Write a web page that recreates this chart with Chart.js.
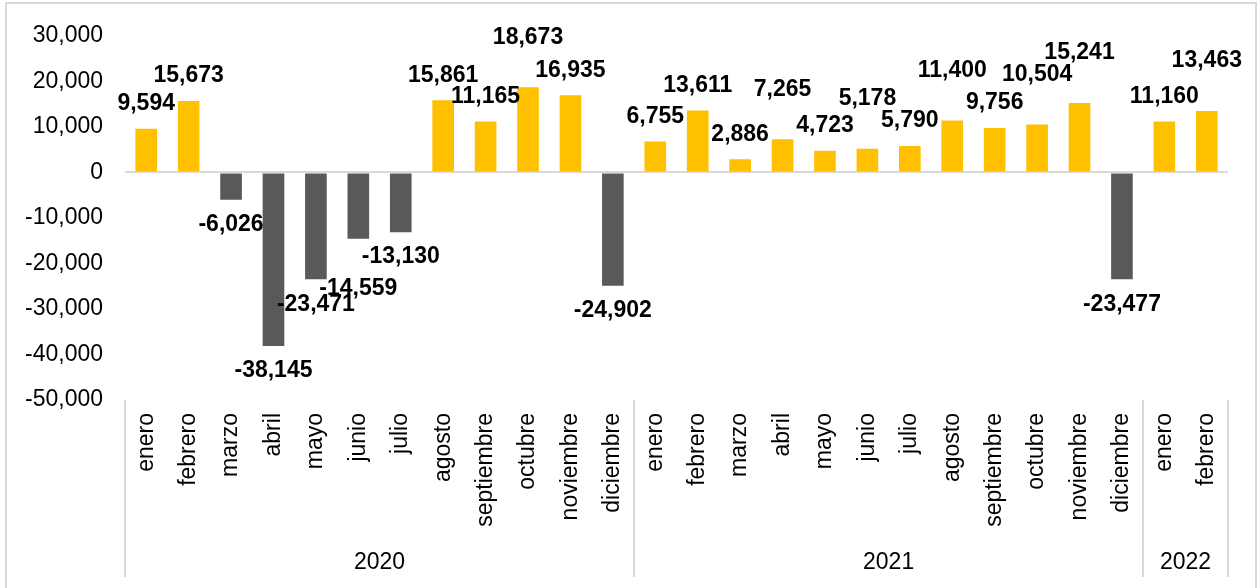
<!DOCTYPE html>
<html>
<head>
<meta charset="utf-8">
<script src="https://cdn.jsdelivr.net/npm/chart.js@4/dist/chart.umd.min.js"></script>
<style>
  html, body { margin: 0; padding: 0; background: #fff; }
  #wrap { position: relative; width: 1259px; height: 588px; }
</style>
</head>
<body>
<div id="wrap"><canvas id="saldoChart"></canvas></div>
<script>
// meses por año
const months2020 = ["enero", "febrero", "marzo", "abril", "mayo", "junio", "julio", "agosto", "septiembre", "octubre", "noviembre", "diciembre"];
const months2021 = ["enero", "febrero", "marzo", "abril", "mayo", "junio", "julio", "agosto", "septiembre", "octubre", "noviembre", "diciembre"];
const months2022 = ["enero", "febrero"];
const years = ["2020", "2021", "2022"];

const values2020 = [9594, 15673, -6026, -38145, -23471, -14559, -13130, 15861, 11165, 18673, 16935, -24902];
const values2021 = [6755, 13611, 2886, 7265, 4723, 5178, 5790, 11400, 9756, 10504, 15241, -23477];
const values2022 = [11160, 13463];

const yMin = -50000;
const yMax = 30000;
const yStep = 10000;

const labels = months2020.concat(months2021, months2022);
const values = values2020.concat(values2021, values2022);
const groupSizes = [months2020.length, months2021.length, months2022.length];

const fontFamily = "'Liberation Sans', Arial, sans-serif";
const lineGray = "#d9d9d9";

function fmt(v) {
  return v.toLocaleString("en-US");
}

// años debajo de los meses, con separadores
const yearGroups = {
  id: "yearGroups",
  afterDraw(chart) {
    const ctx = chart.ctx;
    const x = chart.scales.x;
    const area = chart.chartArea;
    const half = (x.getPixelForValue(1) - x.getPixelForValue(0)) / 2;
    ctx.save();
    ctx.strokeStyle = lineGray;
    ctx.lineWidth = 2;
    ctx.fillStyle = "#000";
    ctx.font = "23px " + fontFamily;
    ctx.textAlign = "center";
    ctx.textBaseline = "middle";

    let idx = 0;
    const edges = [x.getPixelForValue(0) - half];
    groupSizes.forEach(function (n, g) {
      const left = x.getPixelForValue(idx) - half;
      const right = x.getPixelForValue(idx + n - 1) + half;
      edges.push(right);
      ctx.fillText(years[g], (left + right) / 2, area.bottom + 163);
      idx += n;
    });
    edges.forEach(function (ex) {
      ctx.beginPath();
      ctx.moveTo(Math.round(ex), area.bottom);
      ctx.lineTo(Math.round(ex), area.bottom + 177);
      ctx.stroke();
    });

    // marco exterior
    ctx.strokeRect(6, 3, chart.width - 9, chart.height + 10);
    ctx.restore();
  },
};

// etiquetas de valor fuera del extremo de cada barra
// si choca con la anterior, la de mayor valor absoluto se aleja un poco más
const valueLabels = {
  id: "valueLabels",
  afterDatasetsDraw(chart) {
    const ctx = chart.ctx;
    const meta = chart.getDatasetMeta(0);
    const items = [];
    ctx.save();
    ctx.font = "bold 23px " + fontFamily;
    ctx.fillStyle = "#000";
    ctx.textAlign = "center";
    ctx.textBaseline = "middle";
    meta.data.forEach(function (bar, i) {
      const v = values[i];
      const text = fmt(v);
      const item = {
        text: text,
        x: bar.x,
        w: ctx.measureText(text).width,
        dir: v >= 0 ? -1 : 1,
        v: v,
      };
      item.y = bar.y + item.dir * 25;
      const prev = items[items.length - 1];
      if (prev && prev.dir === item.dir &&
          Math.abs(prev.x - item.x) < (prev.w + item.w) / 2 &&
          Math.abs(prev.y - item.y) < 21) {
        const mover = Math.abs(prev.v) > Math.abs(v) ? prev : item;
        mover.y += mover.dir * 25;
      }
      items.push(item);
    });
    items.forEach(function (it) {
      ctx.fillText(it.text, it.x, it.y);
    });
    ctx.restore();
  },
};

const ctx = document.getElementById("saldoChart").getContext("2d");
const saldoChart = new Chart(ctx, {
  type: "bar",
  data: {
    labels: labels,
    datasets: [
      {
        data: values,
        backgroundColor: values.map((v) => (v >= 0 ? "#FFC000" : "#595959")),
        barPercentage: 0.51,
        categoryPercentage: 1,
      },
    ],
  },
  options: {
    responsive: true,
    maintainAspectRatio: false,
    animation: false,
    layout: { padding: { top: 33, right: 31, bottom: 0, left: 0 } },
    plugins: {
      legend: { display: false },
      tooltip: { enabled: false },
    },
    scales: {
      x: {
        grid: { display: false, drawTicks: false },
        border: { display: false },
        ticks: {
          autoSkip: false,
          minRotation: 90,
          maxRotation: 90,
          padding: 13,
          color: "#000",
          font: { family: fontFamily, size: 23 },
        },
        afterFit: function (scale) {
          scale.height = 188;
        },
      },
      y: {
        min: yMin,
        max: yMax,
        border: { display: false },
        grid: {
          drawTicks: false,
          lineWidth: 2,
          color: (c) => (c.tick && c.tick.value === 0 ? lineGray : "rgba(0,0,0,0)"),
        },
        ticks: {
          stepSize: yStep,
          padding: 22,
          color: "#000",
          font: { family: fontFamily, size: 23 },
          callback: (v) => fmt(v),
        },
        afterFit: function (scale) {
          scale.width = 125;
        },
      },
    },
  },
  plugins: [valueLabels, yearGroups],
});
</script>
</body>
</html>
